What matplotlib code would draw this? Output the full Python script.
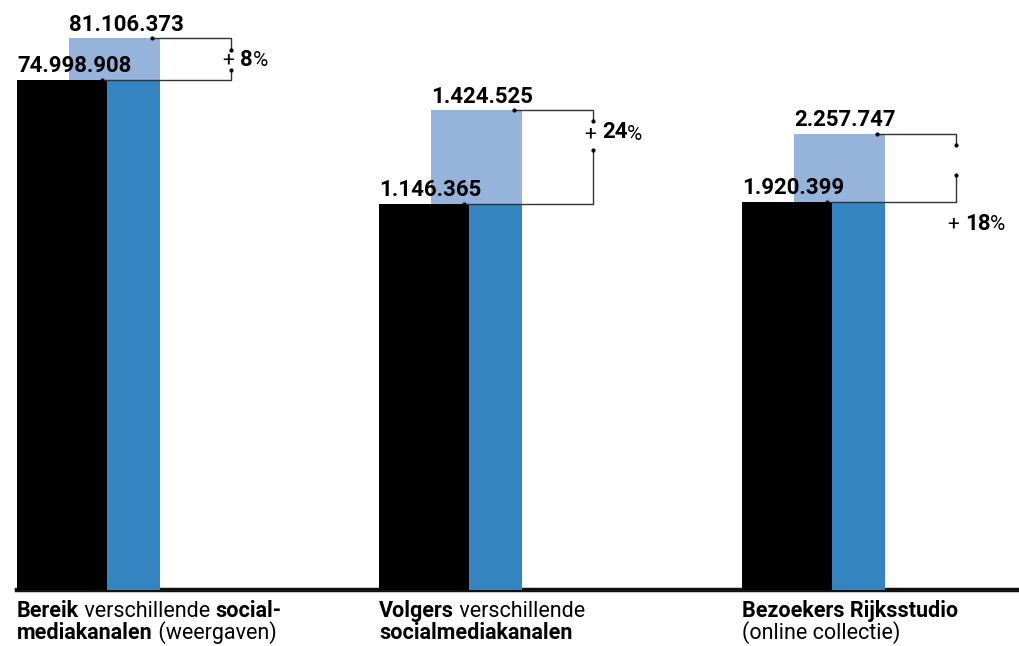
import matplotlib.pyplot as plt

# data: previous year vs current year, one group per metric
old_values = [74998908, 1146365, 1920399]
new_values = [81106373, 1424525, 2257747]
old_labels = ["74.998.908", "1.146.365", "1.920.399"]
new_labels = ["81.106.373", "1.424.525", "2.257.747"]
# each group has its own scale (top of its axis)
scale_top = [86.76e6, 1.752e6, 2.920e6]

cat_lines = [
    [[("Bereik", "bold"), (" verschillende ", "normal"), ("social-", "bold")],
     [("mediakanalen", "bold"), (" (weergaven)", "normal")]],
    [[("Volgers", "bold"), (" verschillende", "normal")],
     [("socialmediakanalen", "bold")]],
    [[("Bezoekers Rijksstudio", "bold")],
     [("(online collectie)", "normal")]],
]

W, H = 1020, 646
BASE = 590  # baseline, px from top
group_left = [17, 379, 742]
# bracket gap (px below the new-value top) and percent text y (px from top)
gap_start = [12, 11, 11]
gap_len = [20, 29, 30]
pct_y = [61, 134, 225]

BLACK = "#000000"
LIGHT = "#95b3db"
DARK = "#3584c2"
LINE = "#333333"
FONT = ["Roboto", "DejaVu Sans"]

plt.rcParams['font.family'] = FONT

fig = plt.figure(figsize=(W / 100, H / 100), dpi=100)

# baseline across the whole chart
base_ax = fig.add_axes([17 / W, 0, (W - 17) / W, (H - BASE) / H])
base_ax.set_xlim(0, 1)
base_ax.set_ylim(0, 1)
base_ax.axis("off")
base_ax.axhline(1, color="#111111", lw=3.2, clip_on=False)

for i in range(3):
    gl = group_left[i]
    ax = fig.add_axes([gl / W, (H - BASE) / H, 300 / W, BASE / H])
    ax.set_xlim(0, 300)
    ax.set_ylim(0, scale_top[i])
    ax.axis("off")

    old, new = old_values[i], new_values[i]
    ax.bar(52, new, width=91, align="edge", color=LIGHT, zorder=1)
    ax.bar(52, old, width=91, align="edge", color=DARK, zorder=2)
    ax.bar(0, old, width=90, align="edge", color=BLACK, zorder=3)

    # value labels
    ax.annotate(old_labels[i], (0, old), xytext=(0, 2), textcoords="offset points",
                ha="left", va="bottom", fontsize=16, fontweight="bold", zorder=5)
    ax.annotate(new_labels[i], (52, new), xytext=(0, 2), textcoords="offset points",
                ha="left", va="bottom", fontsize=16, fontweight="bold", zorder=5)

    # bracket
    px = scale_top[i] / BASE
    g_top = new - gap_start[i] * px
    g_bot = g_top - gap_len[i] * px
    ax.plot([135, 214, 214], [new, new, g_top], color=LINE, lw=1, zorder=4)
    ax.plot([214, 214, 85], [g_bot, old, old], color=LINE, lw=1, zorder=4)
    ax.plot([135, 214, 214, 85], [new, g_top, g_bot, old], "o", color="black",
            ms=2, zorder=4)

    pct = round((new - old) / old * 100)
    yv = (BASE - pct_y[i]) * px
    t = ax.text(206, yv, "+ ", ha="left", va="center", fontsize=15, zorder=5)
    t = ax.annotate(f"{pct}", xy=(1, 0), xycoords=t, ha="left", va="bottom",
                    fontsize=16, fontweight="bold")
    ax.annotate("%", xy=(1, 0), xycoords=t, ha="left", va="bottom", fontsize=15)

    # category labels below the baseline, bold/regular pieces chained
    for j, line in enumerate(cat_lines[i]):
        y = (H - 617 - j * 22) / H
        txt, wt = line[0]
        prev = fig.text(gl / W, y, txt, ha="left", va="baseline",
                        fontsize=15.5, fontweight=wt)
        for txt, wt in line[1:]:
            prev = base_ax.annotate(txt, xy=(1, 0), xycoords=prev, ha="left",
                                    va="bottom", fontsize=15.5, fontweight=wt,
                                    annotation_clip=False)

plt.savefig("out.png", dpi=100)
